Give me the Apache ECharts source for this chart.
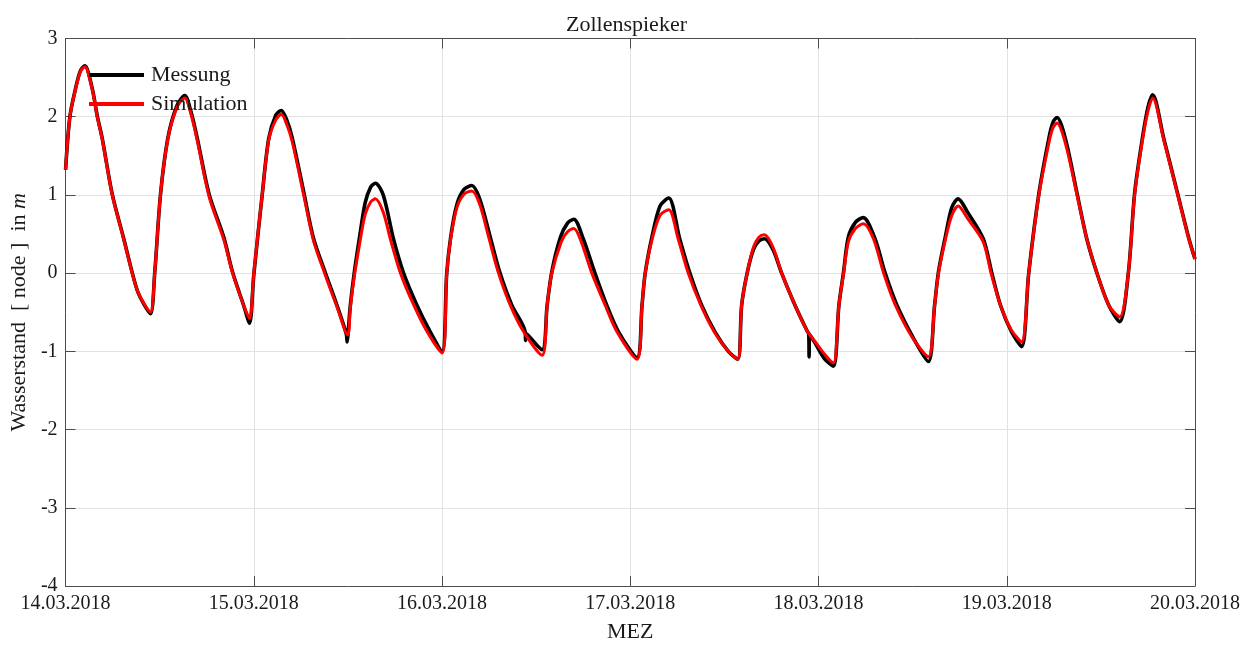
<!DOCTYPE html>
<html>
<head>
<meta charset="utf-8">
<script src="https://cdn.jsdelivr.net/npm/echarts@6/dist/echarts.min.js"></script>
<style>
html,body{margin:0;padding:0;background:#fff;}
#chart{width:1253px;height:648px;}
</style>
</head>
<body>
<div id="chart"></div>
<script>
// x: hours since 14.03.2018 00:00 (MEZ), y: Wasserstand in m
const xTickLabels = ['14.03.2018','15.03.2018','16.03.2018','17.03.2018','18.03.2018','19.03.2018','20.03.2018'];
const yTicks = [-4,-3,-2,-1,0,1,2,3];

const messung = [
[0,1.32],[0.55,2.0],[1.27,2.36],[1.9,2.59],[2.46,2.65],[3.4,2.36],[4.04,2.01],[4.68,1.72],[5.95,1.01],[7.42,0.44],[8.49,0.01],[9.21,-0.24],[10.0,-0.4],[10.83,-0.52],
[11.38,0.02],[12.1,1.0],[13.03,1.72],[14.2,2.14],[15.2,2.27],
[16.0,2.06],[16.8,1.72],[18.3,1.01],[20.2,0.45],[21.3,0.01],[22.7,-0.41],[23.45,-0.64],
[24.0,-0.02],[25.07,1.0],[25.9,1.72],[26.8,2.02],[27.5,2.08],
[28.2,1.96],[28.9,1.73],[30.4,1.02],[31.6,0.45],[33.1,0.01],[34.6,-0.41],[35.8,-0.78],[35.9,-0.88],[36.0,-0.8],
[36.3,-0.42],[36.8,0.0],[37.5,0.47],[38.2,0.9],[38.9,1.1],[39.5,1.15],
[40.5,1.0],[41.8,0.44],[43.1,0.0],[44.8,-0.41],[46.5,-0.75],[48.0,-1.0],
[48.6,0.0],[49.1,0.46],[49.9,0.88],[50.8,1.07],[51.8,1.12],
[52.8,0.95],[54.2,0.44],[55.4,0.0],[56.9,-0.41],[58.6,-0.75],[58.65,-0.86],[58.7,-0.77],[60.75,-0.98],
[61.4,-0.41],[62.0,0.02],[63.1,0.46],[64.0,0.64],[64.8,0.69],
[66.0,0.44],[67.5,0.0],[69.0,-0.41],[70.5,-0.75],[72.85,-1.08],
[73.5,-0.41],[73.9,0.0],[74.8,0.48],[75.8,0.86],[76.9,0.96],
[78.3,0.44],[79.6,0.0],[81.1,-0.41],[82.8,-0.75],[84.5,-1.0],[85.7,-1.1],
[86.2,-0.41],[86.9,0.0],[87.7,0.3],[88.4,0.41],[89.1,0.44],
[90.2,0.3],[91.3,0.0],[93.0,-0.41],[94.6,-0.75],[94.75,-0.77],[94.8,-1.07],[94.85,-0.78],[95.6,-0.9],[96.8,-1.1],[97.9,-1.19],
[98.6,-0.41],[99.2,0.02],[99.8,0.46],[100.7,0.65],[101.7,0.71],
[103.2,0.44],[104.5,0.0],[106.0,-0.41],[108.1,-0.83],[110.0,-1.13],
[110.8,-0.41],[111.3,0.02],[112.2,0.48],[113.0,0.84],[113.8,0.95],
[115.0,0.78],[117.0,0.44],[118.1,0.0],[119.2,-0.41],[120.6,-0.75],[121.9,-0.94],
[122.8,0.0],[124.1,1.02],[125.4,1.74],[125.9,1.93],[126.4,1.99],
[127.5,1.71],[129.0,1.0],[130.2,0.44],[131.5,0.0],[133.0,-0.41],[134.4,-0.62],
[135.5,0.0],[136.3,1.02],[137.3,1.73],[138.0,2.12],[138.6,2.28],
[140.0,1.73],[141.8,1.01],[143.2,0.45],[144,0.18]
];

const simulation = [
[0,1.32],[0.55,2.0],[1.27,2.35],[1.9,2.58],[2.46,2.64],[3.4,2.35],[4.04,2.0],[4.68,1.71],[5.95,1.0],[7.42,0.43],[8.49,0.0],[9.21,-0.24],[10.0,-0.39],[10.83,-0.5],
[11.38,0.02],[12.1,1.0],[13.03,1.71],[14.2,2.12],[15.2,2.24],
[16.0,2.03],[16.8,1.69],[18.3,0.98],[20.2,0.42],[21.3,0.0],[22.7,-0.41],[23.45,-0.58],
[24.0,0.0],[25.07,1.0],[25.9,1.7],[26.8,1.96],[27.5,2.03],
[28.2,1.9],[28.9,1.68],[30.4,0.98],[31.6,0.42],[33.1,-0.02],[34.6,-0.43],[35.97,-0.79],
[36.3,-0.45],[36.8,-0.05],[37.5,0.38],[38.2,0.75],[38.9,0.91],[39.5,0.95],
[40.5,0.78],[41.4,0.44],[42.7,0.0],[44.4,-0.41],[46.1,-0.75],[48.0,-1.02],
[48.6,0.0],[49.1,0.44],[49.9,0.84],[50.8,1.01],[51.8,1.05],
[52.8,0.88],[54.0,0.44],[55.2,0.0],[56.7,-0.41],[58.4,-0.75],[60.75,-1.05],
[61.4,-0.41],[62.0,0.0],[63.2,0.4],[64.0,0.53],[64.8,0.57],
[65.6,0.44],[67.1,0.0],[68.8,-0.41],[70.3,-0.75],[72.85,-1.1],
[73.5,-0.41],[73.9,0.0],[74.8,0.44],[75.8,0.74],[76.9,0.81],
[78.1,0.44],[79.4,0.0],[81.0,-0.41],[82.7,-0.75],[84.5,-1.0],[85.7,-1.1],
[86.2,-0.41],[86.9,0.0],[87.7,0.33],[88.4,0.46],[89.1,0.49],
[90.2,0.33],[91.3,0.0],[93.0,-0.41],[94.6,-0.75],[95.6,-0.88],[96.8,-1.04],[97.9,-1.15],
[98.6,-0.41],[99.2,0.0],[99.8,0.4],[100.7,0.57],[101.7,0.63],
[103.0,0.44],[104.3,0.0],[105.8,-0.41],[108.0,-0.83],[110.0,-1.07],
[110.8,-0.41],[111.3,0.0],[112.2,0.44],[113.0,0.74],[113.8,0.86],
[115.0,0.7],[117.0,0.4],[118.0,0.0],[119.2,-0.41],[120.6,-0.73],[121.9,-0.88],
[122.8,0.0],[124.1,1.0],[125.4,1.68],[125.9,1.86],[126.4,1.92],
[127.5,1.65],[129.0,0.98],[130.2,0.44],[131.5,0.0],[133.0,-0.41],[134.4,-0.56],
[135.5,0.0],[136.3,1.0],[137.3,1.7],[138.0,2.07],[138.6,2.24],
[140.0,1.71],[141.8,1.0],[143.2,0.44],[144,0.18]
];

const FONT = 'Liberation Serif';
const AX = '#4d4d4d';
const chart = echarts.init(document.getElementById('chart'), null, {renderer:'canvas'});

const baseX = {
  type:'value', min:0, max:144, interval:24,
  axisLine:{show:true, onZero:false, lineStyle:{color:AX, width:1}},
  axisTick:{show:true, inside:true, length:10, lineStyle:{color:AX}},
};
const baseY = {
  type:'value', min:-4, max:3, interval:1,
  axisLine:{show:true, onZero:false, lineStyle:{color:AX, width:1}},
  axisTick:{show:true, inside:true, length:10, lineStyle:{color:AX}},
};

chart.setOption({
  animation:false,
  backgroundColor:'#ffffff',
  title:{
    text:'Zollenspieker', left:'center', top:9,
    textStyle:{fontFamily:FONT, fontSize:22, fontWeight:'normal', color:'#1a1a1a'}
  },
  legend:{
    left:84, top:59, orient:'vertical', itemGap:7,
    itemWidth:55, itemHeight:4, icon:'rect',
    textStyle:{fontFamily:FONT, fontSize:22, color:'#1a1a1a', padding:[0,0,0,2]},
    data:['Messung','Simulation']
  },
  grid:{left:65, right:58, top:38.5, bottom:59, containLabel:false},
  xAxis:[
    Object.assign({}, baseX, {
      position:'bottom',
      axisLabel:{show:true, margin:8, fontFamily:FONT, fontSize:20, color:'#1a1a1a',
        formatter:(v)=>xTickLabels[Math.round(v/24)]},
      splitLine:{show:true, lineStyle:{color:'#e2e2e2', width:1}},
      name:'MEZ', nameLocation:'middle', nameGap:35,
      nameTextStyle:{fontFamily:FONT, fontSize:22, color:'#1a1a1a'}
    }),
    Object.assign({}, baseX, {
      position:'top', axisLabel:{show:false}, splitLine:{show:false}
    })
  ],
  yAxis:[
    Object.assign({}, baseY, {
      position:'left',
      axisLabel:{show:true, margin:8, fontFamily:FONT, fontSize:20, color:'#1a1a1a',
        formatter:(v)=> yTicks.includes(v) ? String(v) : ''},
      splitLine:{show:true, lineStyle:{color:'#e2e2e2', width:1}},
      name:'{a|Wasserstand  [ node ]  in }{i|m}', nameLocation:'middle', nameGap:33,
      nameTextStyle:{fontFamily:FONT, fontSize:22, color:'#1a1a1a',
        rich:{a:{fontFamily:FONT, fontSize:22, color:'#1a1a1a'}, i:{fontFamily:FONT, fontSize:22, fontStyle:'italic', color:'#1a1a1a'}}}
    }),
    Object.assign({}, baseY, {
      position:'right', axisLabel:{show:false}, splitLine:{show:false}
    })
  ],
  series:[
    {
      name:'Messung', type:'line', data:messung, xAxisIndex:0, yAxisIndex:0,
      showSymbol:false, symbol:'none', smooth:0.3,
      lineStyle:{color:'#000000', width:3.6}, itemStyle:{color:'#000000'}, z:2
    },
    {
      name:'Simulation', type:'line', data:simulation, xAxisIndex:0, yAxisIndex:0,
      showSymbol:false, symbol:'none', smooth:0.3,
      lineStyle:{color:'#ff0000', width:3}, itemStyle:{color:'#ff0000'}, z:3
    }
  ]
});
</script>
</body>
</html>
